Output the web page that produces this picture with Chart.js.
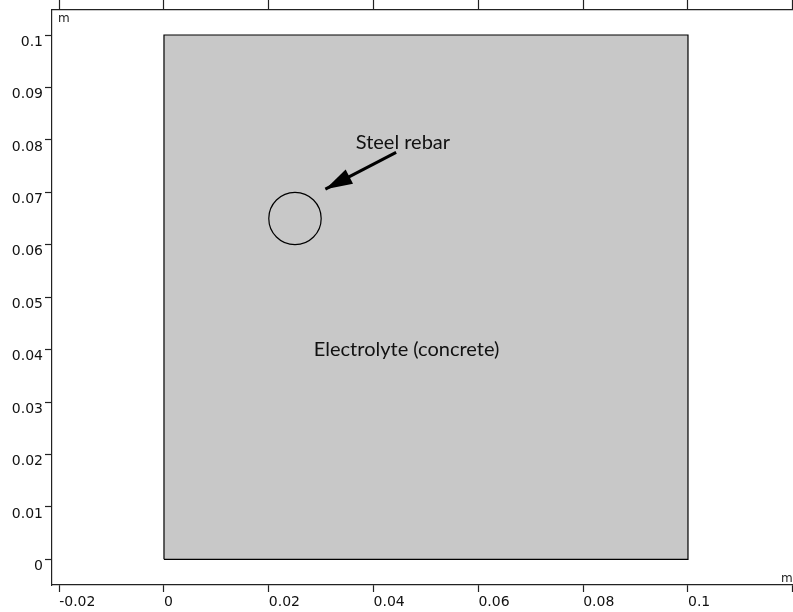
<!DOCTYPE html>
<html>
<head>
<meta charset="utf-8">
<script src="https://cdn.jsdelivr.net/npm/chart.js@4/dist/chart.umd.min.js"></script>
<style>
  html, body { margin: 0; padding: 0; background: #fff; }
  #wrap { position: relative; width: 793px; height: 612px; }
</style>
</head>
<body>
<div id="wrap"><canvas id="geom"></canvas></div>
<script>
// geometry (m)
var domainX = [0, 0.1, 0.1, 0, 0];
var domainY = [0, 0, 0.1, 0.1, 0];
var rebarCenter = [0.025, 0.065];
var rebarRadius = 0.005;
var arrowX = [0.0443, 0.0308];   // tail -> tip
var arrowY = [0.0776, 0.0706];

// labels
var labelText = ['Steel rebar', 'Electrolyte (concrete)'];
var labelX = [0.0456, 0.0463];
var labelY = [0.0794, 0.0400];

// axes
var xRange = [-0.02137, 0.12004];
var yRange = [-0.0049, 0.10477];
var xTicks = [-0.02, 0, 0.02, 0.04, 0.06, 0.08, 0.1, 0.12];
var xTickLabels = ['-0.02', '0', '0.02', '0.04', '0.06', '0.08', '0.1', ''];
var yTicks = [0, 0.01, 0.02, 0.03, 0.04, 0.05, 0.06, 0.07, 0.08, 0.09, 0.1];
var yTickLabels = ['0', '0.01', '0.02', '0.03', '0.04', '0.05', '0.06', '0.07', '0.08', '0.09', '0.1'];
var unitLabel = 'm';

var AXIS = '#222';
var tickFont = { family: 'DejaVu Sans', size: 14 };

function pts(xs, ys) {
  return xs.map(function (x, i) { return { x: x, y: ys[i] }; });
}

function setTicks(list) {
  return function (s) { s.ticks = list.map(function (v) { return { value: v }; }); };
}

var annotations = {
  id: 'annotations',
  afterDatasetsDraw: function (chart) {
    var ctx = chart.ctx;
    var sx = chart.scales.x, sy = chart.scales.y;
    ctx.save();

    // arrow head
    var tx = sx.getPixelForValue(arrowX[1]), ty = sy.getPixelForValue(arrowY[1]);
    var fx = sx.getPixelForValue(arrowX[0]), fy = sy.getPixelForValue(arrowY[0]);
    var len = Math.hypot(fx - tx, fy - ty);
    var ux = (fx - tx) / len, uy = (fy - ty) / len;
    var hl = 27, hw = 8;
    ctx.fillStyle = '#000';
    ctx.beginPath();
    ctx.moveTo(tx, ty);
    ctx.lineTo(tx + ux * hl - uy * hw, ty + uy * hl + ux * hw);
    ctx.lineTo(tx + ux * hl + uy * hw, ty + uy * hl - ux * hw);
    ctx.closePath();
    ctx.fill();

    // text labels
    ctx.font = '20px Lato';
    ctx.textAlign = 'center';
    ctx.textBaseline = 'middle';
    ctx.fillStyle = '#111';
    for (var i = 0; i < labelText.length; i++) {
      ctx.fillText(labelText[i], sx.getPixelForValue(labelX[i]), sy.getPixelForValue(labelY[i]));
    }

    // unit labels on the axes
    ctx.font = '12px "DejaVu Sans"';
    ctx.fillStyle = AXIS;
    ctx.textAlign = 'left';
    ctx.textBaseline = 'alphabetic';
    ctx.fillText(unitLabel, chart.chartArea.left + 6, chart.chartArea.top + 12);
    ctx.textAlign = 'right';
    ctx.fillText(unitLabel, sx.getPixelForValue(xTicks[xTicks.length - 1]), chart.chartArea.bottom - 3);
    ctx.restore();
  }
};

new Chart(document.getElementById('geom'), {
  type: 'scatter',
  data: {
    datasets: [
      {
        label: 'Electrolyte (concrete)',
        data: pts(domainX, domainY),
        order: 2,
        showLine: true,
        fill: 'shape',
        backgroundColor: '#c8c8c8',
        borderColor: '#000',
        borderWidth: 1.2,
        pointRadius: 0,
        tension: 0
      },
      {
        label: 'Steel rebar',
        data: [{ x: rebarCenter[0], y: rebarCenter[1] }],
        order: 1,
        pointRadius: function (c) {
          var s = c.chart.scales.x;
          return s.getPixelForValue(rebarRadius) - s.getPixelForValue(0);
        },
        pointBackgroundColor: 'rgba(0,0,0,0)',
        pointBorderColor: '#000',
        pointBorderWidth: 1.2
      },
      {
        label: 'arrow',
        data: pts(arrowX, arrowY),
        order: 0,
        showLine: true,
        borderColor: '#000',
        borderWidth: 3,
        pointRadius: 0
      }
    ]
  },
  options: {
    responsive: true,
    maintainAspectRatio: false,
    animation: false,
    layout: { padding: 0 },
    plugins: { legend: { display: false }, tooltip: { enabled: false } },
    scales: {
      x: {
        type: 'linear',
        position: 'bottom',
        min: xRange[0],
        max: xRange[1],
        afterBuildTicks: setTicks(xTicks),
        afterFit: function (s) { s.height = 27; s.paddingLeft = 0; s.paddingRight = 0; },
        border: { display: true, color: AXIS, width: 1.2 },
        grid: { drawOnChartArea: false, drawTicks: true, tickLength: 7, color: AXIS, tickWidth: 1.2 },
        ticks: {
          align: 'start',
          padding: 2,
          color: '#111',
          font: tickFont,
          maxRotation: 0,
          autoSkip: false,
          callback: function (v, i) { return xTickLabels[i]; }
        }
      },
      xTop: {
        type: 'linear',
        position: 'top',
        axis: 'x',
        min: xRange[0],
        max: xRange[1],
        afterBuildTicks: setTicks(xTicks),
        afterFit: function (s) { s.height = 10; s.paddingLeft = 0; s.paddingRight = 0; },
        border: { display: true, color: AXIS, width: 1.2 },
        grid: { drawOnChartArea: false, drawTicks: true, tickLength: 10, color: AXIS, tickWidth: 1.2 },
        ticks: { display: false }
      },
      y: {
        type: 'linear',
        position: 'left',
        min: yRange[0],
        max: yRange[1],
        afterBuildTicks: setTicks(yTicks),
        afterFit: function (s) { s.width = 52; s.paddingTop = 0; s.paddingBottom = 0; },
        border: { display: true, color: AXIS, width: 1.2 },
        grid: { drawOnChartArea: false, drawTicks: true, tickLength: 7, color: AXIS, tickWidth: 1.2 },
        ticks: {
          padding: 2,
          labelOffset: 7,
          color: '#111',
          font: tickFont,
          autoSkip: false,
          callback: function (v, i) { return yTickLabels[i]; }
        }
      }
    }
  },
  plugins: [annotations]
});
</script>
</body>
</html>
